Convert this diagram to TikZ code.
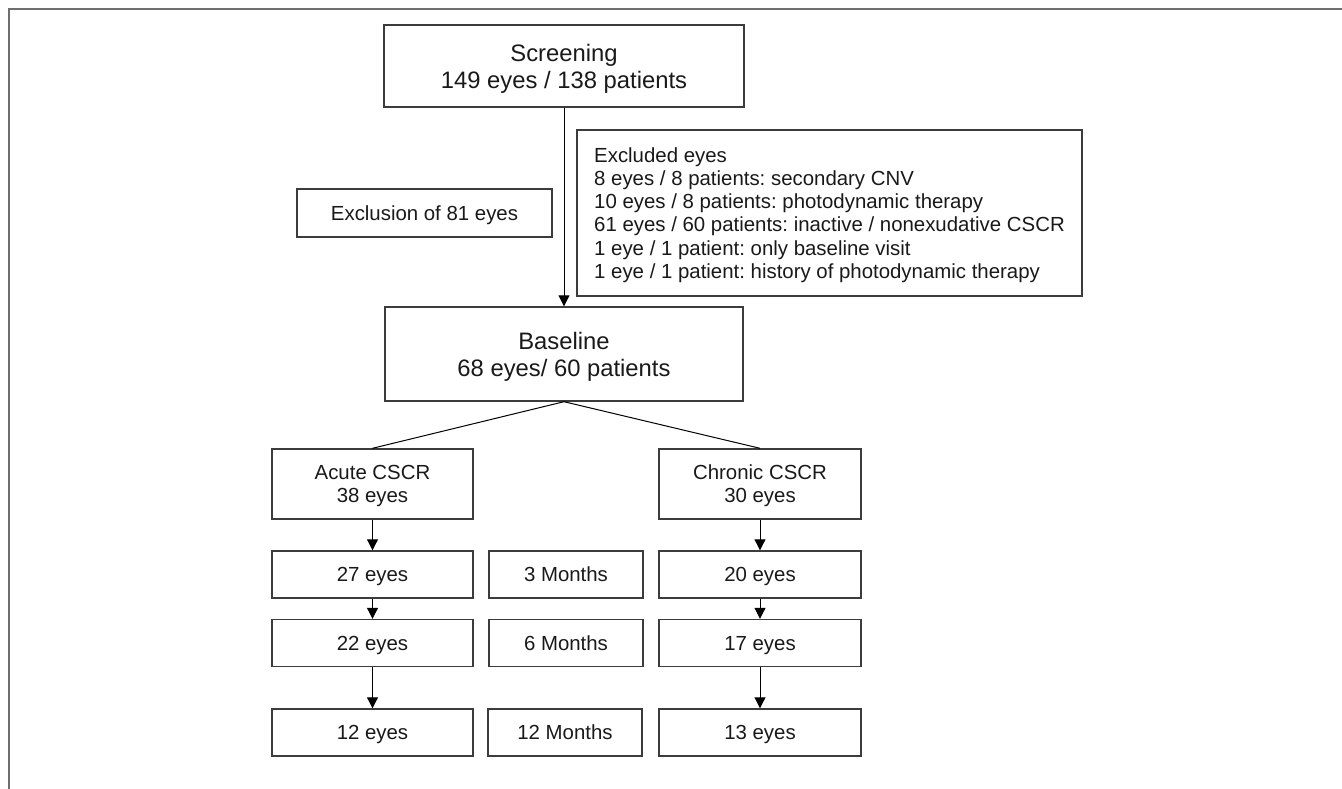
\documentclass[tikz,border=0pt]{standalone}
\usepackage{fontspec}
\setmainfont{Liberation Sans}
\definecolor{myGray}{RGB}{110,110,110}
\definecolor{myDark}{RGB}{60,60,60}
\definecolor{myText}{RGB}{25,25,25}
\usepackage{tikz}
\usetikzlibrary{arrows.meta,positioning}
\frenchspacing

\begin{document}
\begin{tikzpicture}[x=1pt,y=-1pt,
        box/.style={draw=myDark,line width=1.4pt,text=myText,inner sep=0pt,align=center,text depth=0pt,
            font=\fontsize{20.4}{23.2}\selectfont},
        bigbox/.style={box,font=\fontsize{23.8}{27}\selectfont},
        twobox/.style={box,minimum height=70pt},
        colbox/.style={box,minimum width=201pt,minimum height=47pt},
        monthbox/.style={colbox,minimum width=154pt},
        arr/.style={-{Triangle[width=11pt,length=11pt]},line width=1pt,black}]
                \useasboundingbox (0,0) rectangle (1342,789);
                \draw[myGray,line width=2pt] (9,789) -- (9,9) -- (1342,9);

                \node[bigbox,minimum width=360pt,minimum height=82pt] (scr) at (564,66) {Screening\\149 eyes / 138 patients};
                \node[box,minimum width=255pt,minimum height=48pt] (excl) at (424.5,213) {Exclusion of 81 eyes};
                \node[box,align=left,minimum width=505pt,minimum height=166pt] (list) at (829.5,213)
                    {Excluded eyes\\8 eyes / 8 patients: secondary CNV\\10 eyes / 8 patients: photodynamic therapy\\
                     61 eyes / 60 patients: inactive / nonexudative CSCR\\1 eye / 1 patient: only baseline visit\\
                     1 eye / 1 patient: history of photodynamic therapy};
                \node[bigbox,minimum width=358pt,minimum height=94pt] (base) at (564,354) {Baseline\\68 eyes/ 60 patients};

                \node[twobox,minimum width=201pt] (acute) at (372.5,484) {Acute CSCR\\38 eyes};
                \node[twobox,minimum width=202pt] (chron) at (760,484) {Chronic CSCR\\30 eyes};

                \node[colbox] (a3) at (372.5,574.5) {27 eyes};
                \node[colbox] (a6) at (372.5,643) {22 eyes};
                \node[colbox] (a12) at (372.5,732.5) {12 eyes};
                \node[monthbox] (m3) at (566,574.5) {3 Months};
                \node[monthbox] (m6) at (566,643) {6 Months};
                \node[monthbox] (m12) at (565,732.5) {12 Months};
                \node[colbox,minimum width=202pt] (c3) at (760,574.5) {20 eyes};
                \node[colbox,minimum width=202pt] (c6) at (760,643) {17 eyes};
                \node[colbox,minimum width=202pt] (c12) at (760,732.5) {13 eyes};

                \draw[arr] (scr.south) -- (base.north);
                \draw[line width=1pt] (base.south) -- (acute.north);
                \draw[line width=1pt] (base.south) -- (chron.north);
                \draw[arr] (acute) -- (a3);
                \draw[arr] (a3) -- (a6);
                \draw[arr] (a6) -- (a12);
                \draw[arr] (chron) -- (c3);
                \draw[arr] (c3) -- (c6);
                \draw[arr] (c6) -- (c12);
            \end{tikzpicture}
\end{document}
